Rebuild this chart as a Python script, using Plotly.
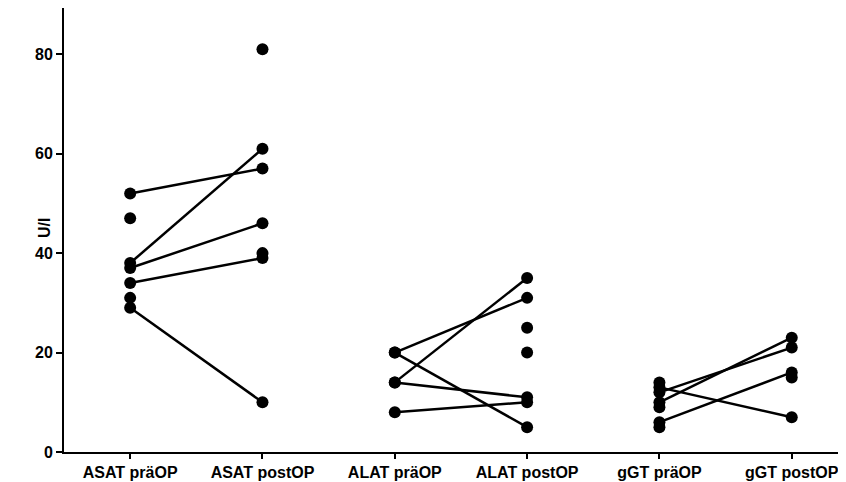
import plotly.graph_objects as go

categories = ["ASAT präOP", "ASAT postOP", "ALAT präOP", "ALAT postOP", "gGT präOP", "gGT postOP"]

# all measured values per category
asat_pre = [52, 47, 38, 37, 34, 31, 29]
asat_post = [81, 61, 57, 46, 40, 39, 10]
alat_pre = [20, 20, 14, 14, 8]
alat_post = [35, 31, 25, 20, 11, 10, 5]
ggt_pre = [14, 13, 12, 10, 9, 6, 5]
ggt_post = [23, 21, 16, 15, 7]

# paired observations (pre -> post)
asat_pair_pre = [52, 38, 37, 34, 29]
asat_pair_post = [57, 61, 46, 39, 10]
alat_pair_pre = [20, 20, 14, 14, 8]
alat_pair_post = [31, 5, 35, 11, 10]
ggt_pair_pre = [10, 12, 13, 6]
ggt_pair_post = [23, 21, 7, 16]

y_ticks = [0, 20, 40, 60, 80]
y_title = "U/l"

fig = go.Figure()

groups = [
    (0, 1, asat_pair_pre, asat_pair_post),
    (2, 3, alat_pair_pre, alat_pair_post),
    (4, 5, ggt_pair_pre, ggt_pair_post),
]
for i0, i1, pre, post in groups:
    for a, b in zip(pre, post):
        fig.add_trace(go.Scatter(
            x=[i0, i1], y=[a, b], mode="lines",
            line=dict(color="black", width=2.5),
            showlegend=False, hoverinfo="skip"))

all_vals = [asat_pre, asat_post, alat_pre, alat_post, ggt_pre, ggt_post]
for i, vals in enumerate(all_vals):
    fig.add_trace(go.Scatter(
        x=[i] * len(vals), y=vals, mode="markers",
        marker=dict(color="black", size=12),
        showlegend=False, name=categories[i]))

font_bold = "Liberation Sans, Arial, sans-serif"

fig.add_annotation(
    text="<b>%s</b>" % y_title, textangle=-90,
    xref="paper", yref="paper", x=-0.024, y=0.505,
    xanchor="center", yanchor="middle", showarrow=False,
    font=dict(size=16, family=font_bold, color="black"))

fig.update_layout(
    width=846, height=482,
    margin=dict(l=56, r=8, t=0, b=38),
    paper_bgcolor="white", plot_bgcolor="white",
    font=dict(family=font_bold, color="black", size=16),
    xaxis=dict(
        range=[-0.5, 5.41], tickmode="array",
        tickvals=list(range(len(categories))),
        ticktext=["<b>%s</b>" % c for c in categories],
        showline=True, linecolor="black", linewidth=2,
        ticks="outside", ticklen=5, tickwidth=2, tickcolor="black",
        showgrid=False, zeroline=False,
        tickfont=dict(size=16, family=font_bold, color="black"),
    ),
    yaxis=dict(
        range=[0, 89.3], tickmode="array", tickvals=y_ticks,
        ticktext=["<b>%d</b>" % v for v in y_ticks],
        showline=True, linecolor="black", linewidth=2,
        ticks="outside", ticklen=6, tickwidth=2, tickcolor="black",
        showgrid=False, zeroline=False,
        tickfont=dict(size=16, family=font_bold, color="black"),
    ),
)

fig.write_html("out.html")
